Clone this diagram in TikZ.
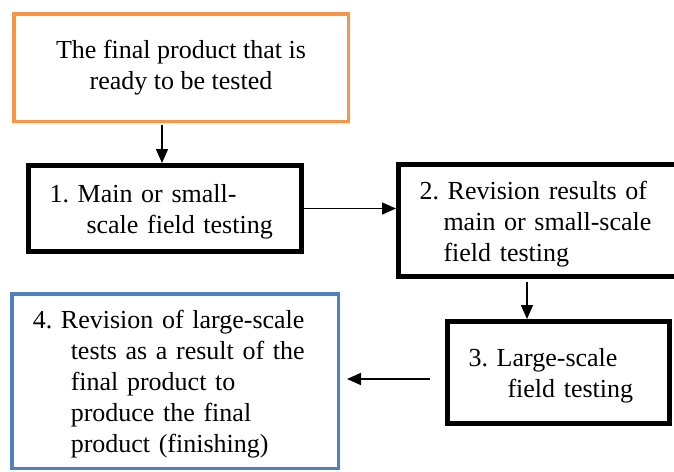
\documentclass[tikz,border=0pt]{standalone}
\usepackage{fontspec}
\setmainfont{Liberation Serif}
\usepackage{tikz}
\usetikzlibrary{positioning}
\usetikzlibrary{arrows.meta}
\definecolor{startorange}{HTML}{F79646}
\definecolor{endblue}{HTML}{4F81BD}
\frenchspacing
\tikzset{
  stagebox/.style={draw,line width=5pt,inner xsep=21pt,inner ysep=2pt,align=left,
    font=\fontsize{26pt}{31pt}\selectfont,execute at begin node={\rule{0pt}{25pt}}},
  thinbox/.style={stagebox,line width=3.5pt},
  flow/.style={-{Triangle[length=14pt,width=12pt]},line width=1.5pt}
}
\begin{document}
\begin{tikzpicture}[x=1pt,y=-1pt]
\useasboundingbox (0,0) rectangle (674,471);
\node[thinbox,draw=startorange,align=center,minimum width=334.5pt,minimum height=107.5pt] (prod) at (181,67.5)
  {The final product that is\\ready to be tested};
\node[stagebox,text width=231pt,minimum height=86pt] (small) at (165,208.5)
  {1. Main or small-\\\hspace*{37pt}scale field testing};
\node[stagebox,text width=237pt,minimum height=112pt] (revsmall) at (538,220.5)
  {2. Revision results of\\\hspace*{24pt}main or small-scale\\\hspace*{24pt}field testing};
\node[stagebox,text width=180pt,minimum height=102pt] (large) at (558.5,372.5)
  {3. Large-scale\\\hspace*{39pt}field testing};
\node[thinbox,draw=endblue,text width=284.5pt,minimum height=174.5pt] (revlarge) at (175,381)
  {4. Revision of large-scale\\\hspace*{38pt}tests as a result of the\\\hspace*{38pt}final product to\\\hspace*{38pt}produce the final\\\hspace*{38pt}product (finishing)};
\coordinate (downA) at (162,0);
\coordinate (downB) at (527,0);
\coordinate (back) at (0,379);
\path[flow] (prod.south -| downA) edge[shorten <=2pt] (small.north -| downA);
\path[flow] (small.east) edge (revsmall.west |- small.east);
\path[flow] (revsmall.south -| downB) edge[shorten <=3pt] (large.north -| downB);
\path[flow] (large.west |- back) edge[shorten <=15pt,shorten >=7pt] (revlarge.east |- back);
\end{tikzpicture}
\end{document}
